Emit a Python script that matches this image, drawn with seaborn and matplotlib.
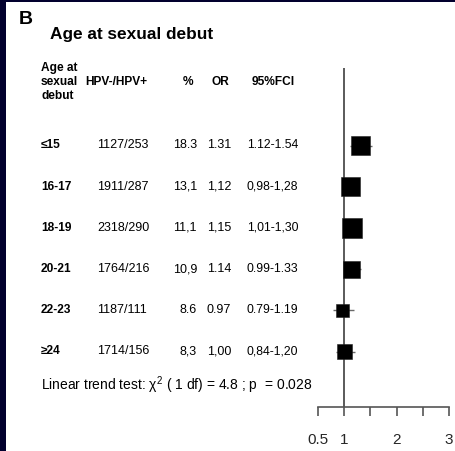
import matplotlib
matplotlib.use("Agg")
import matplotlib.pyplot as plt
from matplotlib.patches import Rectangle
import numpy as np
import pandas as pd
import seaborn as sns

# ---- data -------------------------------------------------------------
age_groups = ["\u226415", "16-17", "18-19", "20-21", "22-23", "\u226524"]
hpv_neg = [1127, 1911, 2318, 1764, 1187, 1714]
hpv_pos = [253, 287, 290, 216, 111, 156]
pct_labels = ["18.3", "13,1", "11,1", "10,9", "8.6", "8,3"]
or_labels = ["1.31", "1,12", "1,15", "1.14", "0.97", "1,00"]
ci_labels = ["1.12-1.54", "0,98-1,28", "1,01-1,30", "0.99-1.33", "0.79-1.19", "0,84-1,20"]
odds_ratio = [1.31, 1.12, 1.15, 1.14, 0.97, 1.00]
ci_low = [1.12, 0.98, 1.01, 0.99, 0.79, 0.84]
ci_high = [1.54, 1.28, 1.30, 1.33, 1.19, 1.20]
tick_values = [0.5, 1, 1.5, 2, 2.5, 3]
tick_labels = ["0.5", "1", "", "2", "", "3"]
trend_text = "Linear trend test: $\\mathrm{\\chi}^2$ ( 1 df) = 4.8 ; p  = 0.028"

df = pd.DataFrame({
    "group": age_groups,
    "row": np.arange(len(age_groups)),
    "OR": odds_ratio,
    "lo": ci_low,
    "hi": ci_high,
    "npos": hpv_pos,
})

# ---- style ------------------------------------------------------------
sns.set_theme(style="white")
plt.rcParams["font.family"] = ["Liberation Sans", "DejaVu Sans"]
plt.rcParams["mathtext.fontset"] = "custom"
plt.rcParams["mathtext.rm"] = "Liberation Sans"
plt.rcParams["mathtext.it"] = "Liberation Sans:italic"

W, H = 455, 451
fig = plt.figure(figsize=(W / 100, H / 100), dpi=100)
fig.patch.set_facecolor("#02002e")
fig.add_artist(Rectangle((6 / W, 0), 1, (H - 2) / H, transform=fig.transFigure,
                         facecolor="white", edgecolor="none", zorder=-10))


def px(x, y):
    return x / W, 1 - y / H


def put(x, y, s, **kw):
    fx, fy = px(x, y)
    fig.text(fx, fy, s, va="center", color="black", **kw)


# ---- forest axes ------------------------------------------------------
ax_left, ax_right, ax_top, ax_bottom = 318, 449, 68, 407
ax = fig.add_axes([ax_left / W, 1 - ax_bottom / H,
                   (ax_right - ax_left) / W, (ax_bottom - ax_top) / H])
ax.set_facecolor("none")
row_y0, row_dy = 145.5, 41.2
ax.set_xlim(0.5, 3)
ax.set_ylim((ax_bottom - row_y0) / row_dy, (ax_top - row_y0) / row_dy)

ax.axvline(1, color="#5a5a5a", lw=1.4, zorder=1)
ax.hlines(df["row"], df["lo"], df["hi"], color="#6a6a6a", lw=1.0, zorder=2)
sns.scatterplot(data=df, x="OR", y="row", size="npos", sizes=(88, 196),
                marker="s", color="black", edgecolor="#222222", linewidth=0.4,
                legend=False, ax=ax, zorder=3)
ax.set_xlabel("")
ax.set_ylabel("")
ax.set_yticks([])
for side in ["top", "right", "left"]:
    ax.spines[side].set_visible(False)
ax.spines["bottom"].set_color("#555555")
ax.spines["bottom"].set_linewidth(1.2)
ax.set_xticks(tick_values)
ax.set_xticklabels(tick_labels, fontsize=11)
ax.tick_params(axis="x", direction="out", length=6.5, width=1.2, color="#555555",
               pad=12, bottom=True)
ax.patch.set_visible(False)
for s in ax.spines.values():
    s.set_clip_on(False)

# ---- text table -------------------------------------------------------
put(19, 19, "B", fontsize=14, fontweight="bold")
put(50, 34, "Age at sexual debut", fontsize=12.4, fontweight="bold")

hdr = dict(fontsize=8.6, fontweight="bold")
put(41, 68, "Age at", **hdr)
put(41, 82, "sexual", **hdr)
put(41, 96, "debut", **hdr)
put(85, 82, "HPV-/HPV+", **hdr)
put(188, 82, "%", ha="center", **hdr)
put(220, 82, "OR", ha="center", **hdr)
put(252, 82, "95%FCl", **hdr)

for i, g in enumerate(age_groups):
    y = row_y0 + row_dy * i
    put(41, y, g, fontsize=8.6, fontweight="bold")
    put(97, y, f"{hpv_neg[i]}/{hpv_pos[i]}", fontsize=9)
    put(197, y, pct_labels[i], fontsize=9, ha="right")
    put(219, y, or_labels[i], fontsize=9, ha="center")
    put(247, y, ci_labels[i], fontsize=8.8)

put(41, 385, trend_text, fontsize=10)

fig.savefig("out.png", dpi=100, facecolor=fig.get_facecolor())
